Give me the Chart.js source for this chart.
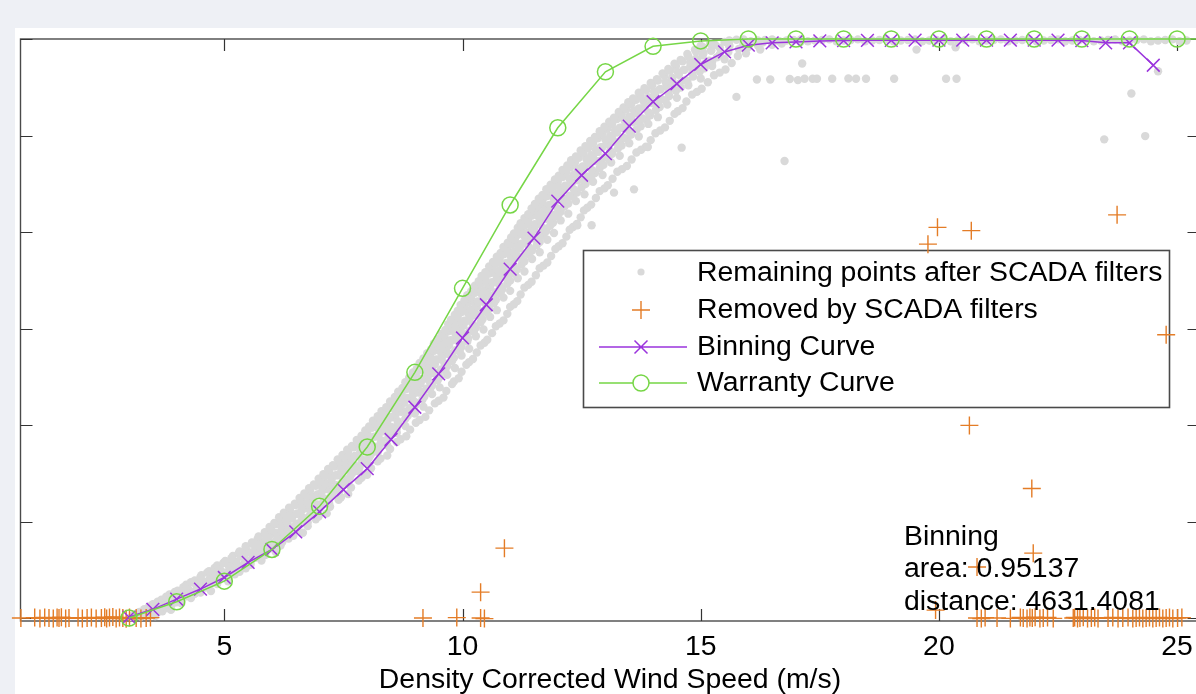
<!DOCTYPE html>
<html><head><meta charset="utf-8">
<script src="https://cdn.jsdelivr.net/npm/chart.js@4.4.1/dist/chart.umd.min.js"></script>
<style>
html,body{margin:0;padding:0;background:#eef0f5;overflow:hidden;width:1196px;height:694px;}
#wrap{position:absolute;left:0;top:0;width:1210px;height:694px;}
</style></head><body>
<div id="wrap"><canvas id="c" width="1210" height="694"></canvas></div>
<script>
// ---- data ----
const xTicks = [5, 10, 15, 20, 25];
const yTicks = [0, 500, 1000, 1500, 2000, 2500, 3000];
const xLabel = 'Density Corrected Wind Speed (m/s)';
const legendLabels = ['Remaining points after SCADA filters', 'Removed by SCADA filters', 'Binning Curve', 'Warranty Curve'];
const noteLines = ['Binning', 'area: 0.95137', 'distance: 4631.4081'];

const warrantySpeed = [3,4,5,6,7,8,9,10,11,12,13,14,15,16,17,18,19,20,21,22,23,24,25,26];
const warrantyPower = [0,84,191,355,579,886,1273,1708,2140,2540,2830,2962,2990,3000,3000,3000,3000,3000,3000,3000,3000,3000,3000,3000];

const binSpeed = [3,3.5,4,4.5,5,5.5,6,6.5,7,7.5,8,8.5,9,9.5,10,10.5,11,11.5,12,12.5,13,13.5,14,14.5,15,15.5,16,16.5,17,17.5,18,18.5,19,19.5,20,20.5,21,21.5,22,22.5,23,23.5,24,24.5];
const binPower = [5,45,98,150,210,288,355,446,550,665,774,925,1092,1265,1451,1623,1808,1968,2160,2294,2406,2549,2675,2768,2868,2933,2968,2980,2985,2990,2992,2993,2993,2994,2994,2994,2994,2994,2994,2994,2992,2980,2980,2864];

const remainingPts = [
[3.05,5],[3.15,12],[3.25,8],[3.3,22],[3.4,15],[3.5,28],[3.55,10],[3.2,25],
[3.1,18],[3.22,32],[3.35,28],[3.45,40],[3.6,30],[3.7,35],[3.28,15],
[3.32,45],[3.42,60],[3.5,38],[3.58,55],[3.65,48],[3.72,68],[3.8,52],[3.88,42],
[3.5,72],[3.6,85],[3.7,78],[3.8,90],[3.9,70],[4.0,82],[4.1,76],
[3.68,95],[3.78,110],[3.86,88],[3.95,118],[4.02,100],[4.1,92],[4.2,112],[4.3,104],
[3.85,122],[3.96,135],[4.06,118],[4.16,130],[4.26,140],[4.38,125],[4.5,132],
[4.02,142],[4.14,160],[4.24,150],[4.33,135],[4.42,165],[4.5,148],[4.6,158],[4.72,140],
[4.2,172],[4.3,185],[4.4,178],[4.52,190],[4.62,170],[4.74,182],[4.85,176],
[4.38,195],[4.5,212],[4.62,188],[4.7,205],[4.8,218],[4.88,196],[4.98,208],[5.08,190],
[4.52,222],[4.64,235],[4.76,228],[4.86,240],[4.96,220],[5.08,232],[5.22,226],
[4.68,242],[4.8,260],[4.92,248],[5.02,235],[5.1,265],[5.2,252],[5.32,240],[5.45,258],
[4.85,272],[4.98,285],[5.08,278],[5.2,290],[5.3,270],[5.42,282],[5.55,276],
[5.02,295],[5.15,310],[5.25,290],[5.35,318],[5.45,302],[5.55,288],[5.65,312],[5.78,298],
[5.18,322],[5.3,335],[5.42,328],[5.5,340],[5.6,320],[5.72,332],[5.86,326],
[5.32,345],[5.45,362],[5.55,340],[5.65,355],[5.75,368],[5.85,348],[5.95,360],[6.08,342],
[5.45,372],[5.58,385],[5.7,378],[5.8,390],[5.9,370],[6.02,382],[6.18,376],
[5.58,392],[5.7,410],[5.82,398],[5.92,415],[6.0,388],[6.1,405],[6.22,395],[6.35,412],
[5.72,422],[5.85,435],[5.96,428],[6.06,440],[6.16,420],[6.28,432],[6.45,426],
[5.85,445],[5.98,462],[6.1,440],[6.2,455],[6.3,468],[6.42,448],[6.52,460],[6.65,442],
[5.95,472],[6.08,485],[6.2,478],[6.32,490],[6.44,470],[6.56,482],[6.75,476],
[6.05,492],[6.18,510],[6.3,498],[6.42,515],[6.52,488],[6.62,505],[6.75,495],[6.92,512],
[6.15,522],[6.28,535],[6.42,528],[6.54,540],[6.66,520],[6.8,532],[6.98,526],
[6.25,545],[6.38,560],[6.52,540],[6.62,556],[6.72,568],[6.85,548],[6.98,560],[7.15,542],
[6.36,572],[6.5,585],[6.64,578],[6.76,590],[6.88,570],[7.02,582],[7.22,576],
[6.48,592],[6.62,610],[6.75,598],[6.85,615],[6.95,588],[7.08,605],[7.2,595],[7.4,612],
[6.58,622],[6.72,635],[6.86,628],[6.98,640],[7.1,620],[7.24,632],[7.45,626],
[6.68,645],[6.8,660],[6.95,640],[7.05,656],[7.15,668],[7.28,648],[7.42,660],[7.6,642],
[6.78,672],[6.92,685],[7.06,678],[7.18,690],[7.3,670],[7.44,682],[7.66,676],
[6.88,692],[7.0,710],[7.12,698],[7.25,715],[7.35,688],[7.48,705],[7.6,695],[7.82,712],
[6.98,722],[7.12,735],[7.26,728],[7.38,740],[7.5,720],[7.64,732],[7.88,726],
[7.08,745],[7.2,760],[7.34,740],[7.45,756],[7.55,768],[7.68,748],[7.82,760],[8.0,742],
[7.18,772],[7.32,785],[7.46,778],[7.58,790],[7.7,770],[7.84,782],[8.08,776],
[7.28,792],[7.42,810],[7.55,798],[7.65,815],[7.75,788],[7.88,805],[8.02,795],[8.22,812],
[7.38,822],[7.52,835],[7.66,828],[7.78,840],[7.9,820],[8.04,832],[8.28,826],
[7.48,845],[7.6,860],[7.74,840],[7.85,856],[7.95,868],[8.08,848],[8.22,860],[8.42,842],
[7.58,872],[7.72,885],[7.86,878],[7.98,890],[8.1,870],[8.24,882],[8.48,876],
[7.68,892],[7.8,910],[7.94,898],[8.05,915],[8.15,888],[8.28,905],[8.42,895],[8.62,912],
[7.78,922],[7.92,935],[8.06,928],[8.18,940],[8.3,920],[8.44,932],[8.7,926],
[7.88,945],[8.0,960],[8.14,940],[8.25,956],[8.35,968],[8.48,948],[8.62,960],[8.82,942],
[7.96,972],[8.1,985],[8.24,978],[8.36,990],[8.48,970],[8.62,982],[8.9,976],
[8.04,992],[8.18,1010],[8.3,998],[8.42,1015],[8.52,988],[8.65,1005],[8.8,995],[9.02,1012],
[8.12,1022],[8.26,1035],[8.4,1028],[8.52,1040],[8.64,1020],[8.8,1032],[9.1,1026],
[8.22,1045],[8.36,1060],[8.48,1040],[8.6,1056],[8.72,1068],[8.85,1048],[9.0,1060],[9.22,1042],
[8.3,1072],[8.44,1085],[8.58,1078],[8.7,1090],[8.82,1070],[8.98,1082],[9.3,1076],
[8.4,1092],[8.54,1110],[8.66,1098],[8.78,1115],[8.9,1088],[9.02,1105],[9.18,1095],[9.42,1112],
[8.48,1122],[8.62,1135],[8.76,1128],[8.88,1140],[9.0,1120],[9.16,1132],[9.5,1126],
[8.58,1145],[8.72,1160],[8.84,1140],[8.96,1156],[9.08,1168],[9.2,1148],[9.36,1160],[9.6,1142],
[8.65,1172],[8.8,1185],[8.94,1178],[9.06,1190],[9.18,1170],[9.32,1182],[9.66,1176],
[8.74,1192],[8.88,1210],[9.0,1198],[9.12,1215],[9.24,1188],[9.36,1205],[9.52,1195],[9.78,1212],
[8.8,1222],[8.95,1235],[9.08,1228],[9.2,1240],[9.32,1220],[9.48,1232],[9.82,1226],
[8.88,1245],[9.02,1260],[9.15,1240],[9.28,1256],[9.4,1268],[9.52,1248],[9.68,1260],[9.92,1242],
[8.96,1272],[9.1,1285],[9.24,1278],[9.36,1290],[9.48,1270],[9.64,1282],[9.98,1276],
[9.04,1292],[9.18,1310],[9.3,1298],[9.42,1315],[9.55,1288],[9.68,1305],[9.84,1295],[10.08,1312],
[9.1,1322],[9.25,1335],[9.38,1328],[9.5,1340],[9.62,1320],[9.78,1332],[10.14,1326],
[9.18,1345],[9.32,1360],[9.45,1340],[9.58,1356],[9.7,1368],[9.82,1348],[9.98,1360],[10.22,1342],
[9.26,1372],[9.4,1385],[9.54,1378],[9.66,1390],[9.78,1370],[9.94,1382],[10.3,1376],
[9.34,1392],[9.48,1410],[9.6,1398],[9.72,1415],[9.85,1388],[9.98,1405],[10.14,1395],[10.38,1412],
[9.4,1422],[9.55,1435],[9.68,1428],[9.8,1440],[9.94,1420],[10.1,1432],[10.46,1426],
[9.48,1445],[9.62,1460],[9.75,1440],[9.88,1456],[10.0,1468],[10.12,1448],[10.28,1460],[10.52,1442],
[9.56,1472],[9.7,1485],[9.84,1478],[9.96,1490],[10.08,1470],[10.24,1482],[10.62,1476],
[9.64,1492],[9.78,1510],[9.9,1498],[10.02,1515],[10.15,1488],[10.28,1505],[10.44,1495],[10.7,1512],
[9.7,1522],[9.84,1535],[9.98,1528],[10.1,1540],[10.22,1520],[10.38,1532],[10.78,1526],
[9.76,1545],[9.9,1560],[10.04,1540],[10.16,1556],[10.28,1568],[10.42,1548],[10.58,1560],[10.86,1542],
[9.84,1572],[9.98,1585],[10.12,1578],[10.24,1590],[10.36,1570],[10.52,1582],[10.94,1576],
[9.9,1592],[10.04,1610],[10.18,1598],[10.3,1615],[10.42,1588],[10.56,1605],[10.72,1595],[11.0,1612],
[9.96,1622],[10.12,1635],[10.26,1628],[10.38,1640],[10.5,1620],[10.66,1632],[11.08,1626],
[10.04,1645],[10.18,1660],[10.32,1640],[10.44,1656],[10.56,1668],[10.7,1648],[10.86,1660],[11.15,1642],
[10.1,1672],[10.26,1685],[10.4,1678],[10.52,1690],[10.64,1670],[10.8,1682],[11.22,1676],
[10.18,1692],[10.32,1710],[10.46,1698],[10.58,1715],[10.7,1688],[10.84,1705],[11.0,1695],[11.3,1712],
[10.26,1722],[10.4,1735],[10.54,1728],[10.66,1740],[10.78,1720],[10.94,1732],[11.38,1726],
[10.34,1745],[10.48,1760],[10.62,1740],[10.74,1756],[10.86,1768],[11.0,1748],[11.16,1760],[11.45,1742],
[10.4,1772],[10.56,1785],[10.7,1778],[10.82,1790],[10.94,1770],[11.1,1782],[11.54,1776],
[10.48,1792],[10.62,1810],[10.76,1798],[10.88,1815],[11.0,1788],[11.14,1805],[11.3,1795],[11.62,1812],
[10.56,1822],[10.7,1835],[10.84,1828],[10.96,1840],[11.08,1820],[11.24,1832],[11.7,1826],
[10.64,1845],[10.78,1860],[10.92,1840],[11.04,1856],[11.16,1868],[11.3,1848],[11.46,1860],[11.78,1842],
[10.72,1872],[10.86,1885],[11.0,1878],[11.12,1890],[11.24,1870],[11.4,1882],[11.86,1876],
[10.8,1892],[10.94,1910],[11.08,1898],[11.2,1915],[11.32,1888],[11.46,1905],[11.62,1895],[11.95,1912],
[10.86,1922],[11.02,1935],[11.16,1928],[11.28,1940],[11.4,1920],[11.56,1932],[12.02,1926],
[10.95,1945],[11.1,1960],[11.24,1940],[11.36,1956],[11.48,1968],[11.62,1948],[11.78,1960],[12.1,1942],
[11.02,1972],[11.16,1985],[11.3,1978],[11.44,1990],[11.56,1970],[11.7,1982],[12.18,1976],
[11.08,1992],[11.24,2010],[11.38,1998],[11.5,2015],[11.62,1988],[11.76,2005],[11.92,1995],[12.25,2012],
[11.16,2022],[11.3,2035],[11.44,2028],[11.58,2040],[11.7,2020],[11.84,2032],[12.32,2026],
[11.22,2045],[11.38,2060],[11.52,2040],[11.64,2056],[11.76,2068],[11.9,2048],[12.06,2060],[12.4,2042],
[11.3,2072],[11.46,2085],[11.6,2078],[11.72,2090],[11.84,2070],[12.0,2082],[12.48,2076],
[11.38,2092],[11.52,2110],[11.66,2098],[11.8,2115],[11.92,2088],[12.06,2105],[12.22,2095],[12.55,2112],
[11.45,2122],[11.6,2135],[11.74,2128],[11.88,2140],[12.0,2120],[12.14,2132],[12.62,2126],
[11.52,2145],[11.68,2160],[11.82,2140],[11.95,2156],[12.08,2168],[12.22,2148],[12.38,2160],[12.7,2142],
[11.6,2172],[11.76,2185],[11.9,2178],[12.04,2190],[12.16,2170],[12.32,2182],[12.8,2176],
[11.68,2192],[11.84,2210],[11.98,2198],[12.12,2215],[12.25,2188],[12.4,2205],[12.56,2195],[12.88,2212],
[11.76,2222],[11.92,2235],[12.06,2228],[12.2,2240],[12.34,2220],[12.5,2232],[12.98,2226],
[11.85,2245],[12.0,2260],[12.15,2240],[12.3,2256],[12.42,2268],[12.58,2248],[12.74,2260],[13.05,2242],
[11.94,2272],[12.1,2285],[12.24,2278],[12.4,2290],[12.54,2270],[12.7,2282],[13.15,2276],
[12.02,2292],[12.18,2310],[12.34,2298],[12.48,2315],[12.62,2288],[12.78,2305],[12.94,2295],[13.25,2312],
[12.1,2322],[12.26,2335],[12.42,2328],[12.56,2340],[12.72,2320],[12.88,2332],[13.35,2326],
[12.2,2345],[12.36,2360],[12.52,2340],[12.66,2356],[12.8,2368],[12.96,2348],[13.12,2360],[13.45,2342],
[12.28,2372],[12.44,2385],[12.6,2378],[12.74,2390],[12.9,2370],[13.06,2382],[13.55,2376],
[12.38,2392],[12.54,2410],[12.7,2398],[12.84,2415],[12.98,2388],[13.14,2405],[13.3,2395],[13.65,2412],
[12.48,2422],[12.64,2435],[12.8,2428],[12.94,2440],[13.1,2420],[13.26,2432],[13.75,2426],
[12.58,2445],[12.74,2460],[12.9,2440],[13.04,2456],[13.18,2468],[13.34,2448],[13.5,2460],[13.85,2442],
[12.68,2472],[12.84,2485],[13.0,2478],[13.14,2490],[13.3,2470],[13.46,2482],[13.95,2476],
[12.78,2492],[12.94,2510],[13.1,2498],[13.24,2515],[13.38,2488],[13.54,2505],[13.7,2495],[14.05,2512],
[12.88,2522],[13.04,2535],[13.2,2528],[13.34,2540],[13.5,2520],[13.66,2532],[14.15,2526],
[12.98,2545],[13.14,2560],[13.3,2540],[13.44,2556],[13.58,2568],[13.74,2548],[13.9,2560],[14.25,2542],
[13.08,2572],[13.24,2585],[13.4,2578],[13.54,2590],[13.7,2570],[13.86,2582],[14.35,2576],
[13.18,2592],[13.34,2610],[13.5,2598],[13.64,2615],[13.78,2588],[13.94,2605],[14.1,2595],[14.45,2612],
[13.28,2622],[13.44,2635],[13.6,2628],[13.74,2640],[13.9,2620],[14.06,2632],[14.52,2626],
[13.38,2645],[13.54,2660],[13.7,2640],[13.84,2656],[13.98,2668],[14.14,2648],[14.3,2660],[14.62,2642],
[13.48,2672],[13.64,2685],[13.8,2678],[13.94,2690],[14.1,2670],[14.26,2682],[14.7,2676],
[13.58,2692],[13.74,2710],[13.9,2698],[14.04,2715],[14.18,2688],[14.34,2705],[14.5,2695],[14.82,2712],
[13.7,2722],[13.86,2735],[14.02,2728],[14.16,2740],[14.32,2720],[14.48,2732],[14.92,2726],
[13.82,2745],[13.98,2760],[14.14,2740],[14.28,2756],[14.42,2768],[14.58,2748],[14.74,2760],[15.02,2742],
[13.95,2772],[14.1,2785],[14.26,2778],[14.4,2790],[14.56,2770],[14.72,2782],[15.15,2776],
[14.08,2792],[14.24,2810],[14.4,2798],[14.54,2815],[14.68,2788],[14.84,2805],[15.0,2795],[15.28,2812],
[14.2,2822],[14.36,2835],[14.52,2828],[14.66,2840],[14.82,2820],[14.98,2832],[15.4,2826],
[14.32,2845],[14.48,2860],[14.64,2840],[14.78,2856],[14.92,2868],[15.08,2848],[15.24,2860],[15.52,2842],
[14.45,2872],[14.62,2885],[14.78,2878],[14.92,2890],[15.08,2870],[15.24,2882],[15.65,2876],
[14.58,2892],[14.74,2910],[14.9,2898],[15.04,2915],[15.18,2888],[15.34,2905],[15.5,2895],[15.78,2912],
[14.72,2922],[14.9,2935],[15.06,2928],[15.22,2940],[15.4,2920],[15.58,2932],[15.95,2926],
[14.88,2945],[15.05,2958],[15.22,2940],[15.4,2955],[15.6,2962],[15.8,2948],[16.0,2958],[16.25,2945],
[15.0,2965],[15.3,2970],[15.6,2968],[15.9,2972],[16.2,2966],[16.5,2970],
[15.2,2978],[15.5,2985],[15.9,2975],[16.3,2982],[16.7,2976],[17.1,2985],
[15.6,2992],[15.9,2998],[16.2,2992],[16.5,2998],[16.8,2992],[17.1,2998],[17.4,2992],[17.7,2998],[18.0,2992],
[18.3,2998],[18.6,2992],[18.9,2998],[19.2,2992],[19.5,2998],[19.8,2992],[20.1,2998],[20.4,2992],[20.7,2998],
[21.0,2992],[21.3,2998],[21.6,2992],[21.9,2998],[22.2,2992],[22.5,2998],[22.8,2992],[23.1,2998],[23.4,2992],
[23.7,2998],[24.0,2992],[24.3,2998],[24.6,2992],[24.9,2998],[25.2,2992],
[15.75,2996],[16.05,2988],[16.35,2995],[16.65,2988],[16.95,2995],[17.25,2988],[17.55,2995],[17.85,2988],
[18.15,2995],[18.45,2988],[18.75,2995],[19.05,2988],[19.35,2995],[19.65,2988],[19.95,2995],[20.25,2988],
[20.55,2995],[20.85,2988],[21.15,2995],[21.45,2988],[21.75,2995],[22.05,2988],[22.35,2995],[22.65,2988],
[22.95,2995],[23.25,2988],[23.55,2995],[23.85,2988],[24.15,2995],[24.45,2988],[24.75,2995],[25.05,2988],
[17.13,2873],[16.18,2790],[16.46,2790],[16.87,2793],[17.04,2787],[17.18,2794],[17.35,2794],[17.44,2794],
[17.76,2794],[18.26,2794],[18.47,2794],[19.06,2794],[15.75,2700],[16.76,2368],[14.6,2437],[13.89,2440],
[13.6,2221],[13.18,2204],[12.71,2035],[12.41,2035],[19.53,2945],[20.35,2957],[18.1,2795],[20.15,2794],
[20.37,2794],[24.04,2718],[23.47,2480],[24.33,2497],[24.6,2833]
];

const removedPts = [
[0.73,0],[1.02,2],[1.13,-2],[1.23,3],[1.32,0],[1.41,-3],[1.49,2],[1.53,0],[1.58,4],[1.67,-2],[1.74,0],
[1.93,2],[2.02,-2],[2.12,0],[2.21,3],[2.31,-2],[2.42,0],[2.49,4],[2.53,-3],[2.59,2],[2.66,5],[2.73,-2],
[2.8,3],[2.87,0],[2.94,-4],[3.01,2],[3.15,0],[3.25,-3],[3.36,0],[3.45,2],
[9.17,0],[9.88,2],[10.38,0],[10.46,-3],[10.38,134],[10.88,362],
[19.93,41],[20.8,264],[21.98,336],[20.64,998],[21.95,671],[24.77,1468],
[19.77,1937],[19.97,2024],[20.68,2007],[23.74,2089],
[20.8,0],[20.89,-3],[20.97,2],[21.22,0],[21.5,-2],[21.71,3],[21.77,0],[21.85,-3],[21.91,2],[21.96,0],
[22.02,4],[22.12,-2],[22.19,0],[22.28,3],[22.4,-2],[22.82,0],[22.85,3],[22.91,-2],[22.96,0],[23.03,4],
[23.12,-3],[23.2,0],[23.27,2],[23.34,-2],[23.55,0],[23.65,3],[23.76,-2],[23.86,0],[23.97,2],[24.07,-3],
[24.14,0],[24.21,3],[24.28,-2],[24.35,0],[24.42,2],[24.49,-3],[24.56,0],[24.63,3],[24.7,-2],[24.77,0],
[24.84,2],[24.91,-3],[25.01,0],[25.1,2]
];

// ---- colours / styles ----
const C_GRAY = '#d9d9d9', C_ORANGE = '#e47c26', C_PURPLE = '#9b34dd', C_GREEN = '#76d646';
const FONT = '"Liberation Sans", Arial, Helvetica, sans-serif';
const FS = 28.4;

const toXY = (xs, ys) => xs.map((x, i) => ({x: x, y: ys[i]}));
const pairs = arr => arr.map(p => ({x: p[0], y: p[1]}));

const decor = {
  id: 'decor',
  beforeDraw(chart) {
    const ctx = chart.ctx;
    ctx.save();
    ctx.fillStyle = '#eef0f5';
    ctx.fillRect(0, 0, chart.width, chart.height);
    ctx.fillStyle = '#ffffff';
    ctx.fillRect(15, 28, chart.width - 15, chart.height - 28);
    ctx.restore();
  },
  beforeDatasetsDraw(chart) {
    const ctx = chart.ctx, a = chart.chartArea, xs = chart.scales.x, ys = chart.scales.y;
    ctx.save();
    ctx.strokeStyle = '#4a4a4a';
    ctx.lineWidth = 1.4;
    ctx.strokeRect(a.left, a.top, a.right - a.left, a.bottom - a.top);
    ctx.strokeStyle = '#333';
    ctx.lineWidth = 1.2;
    ctx.beginPath();
    xTicks.forEach(v => {
      const px = Math.round(xs.getPixelForValue(v)) + 0.5;
      ctx.moveTo(px, a.bottom); ctx.lineTo(px, a.bottom - 12);
      ctx.moveTo(px, a.top); ctx.lineTo(px, a.top + 12);
    });
    yTicks.forEach(v => {
      const py = Math.round(ys.getPixelForValue(v)) + 0.5;
      ctx.moveTo(a.left, py); ctx.lineTo(a.left + 12, py);
      ctx.moveTo(a.right, py); ctx.lineTo(a.right - 12, py);
    });
    ctx.stroke();

    // legend box
    const bx = 583.5, by = 250.5, bw = 586, bh = 157;
    ctx.fillStyle = '#fff';
    ctx.fillRect(bx, by, bw, bh);
    ctx.strokeStyle = '#4a4a4a';
    ctx.lineWidth = 1.6;
    ctx.strokeRect(bx, by, bw, bh);
    const rows = [273, 310, 347, 383], mx = 641;
    ctx.fillStyle = C_GRAY;
    ctx.beginPath(); ctx.arc(mx, rows[0] - 1, 3.6, 0, Math.PI * 2); ctx.fill();
    ctx.strokeStyle = C_ORANGE; ctx.lineWidth = 1.4;
    ctx.beginPath();
    ctx.moveTo(mx - 9, rows[1]); ctx.lineTo(mx + 9, rows[1]);
    ctx.moveTo(mx, rows[1] - 9); ctx.lineTo(mx, rows[1] + 9);
    ctx.stroke();
    ctx.strokeStyle = C_PURPLE; ctx.lineWidth = 1.5;
    ctx.beginPath();
    ctx.moveTo(599, rows[2]); ctx.lineTo(687, rows[2]);
    ctx.moveTo(mx - 6.5, rows[2] - 6.5); ctx.lineTo(mx + 6.5, rows[2] + 6.5);
    ctx.moveTo(mx - 6.5, rows[2] + 6.5); ctx.lineTo(mx + 6.5, rows[2] - 6.5);
    ctx.stroke();
    ctx.strokeStyle = C_GREEN; ctx.lineWidth = 1.5;
    ctx.beginPath();
    ctx.moveTo(599, rows[3]); ctx.lineTo(mx - 8, rows[3]);
    ctx.moveTo(mx + 8, rows[3]); ctx.lineTo(687, rows[3]);
    ctx.stroke();
    ctx.beginPath(); ctx.arc(mx, rows[3], 8, 0, Math.PI * 2); ctx.stroke();
    ctx.fillStyle = '#000';
    ctx.font = FS + 'px ' + FONT;
    ctx.textBaseline = 'middle';
    ctx.textAlign = 'left';
    legendLabels.forEach((t, i) => ctx.fillText(t, 697, rows[i]));
    ctx.restore();
  },
  afterDatasetsDraw(chart) {
    const ctx = chart.ctx;
    ctx.save();
    ctx.fillStyle = '#000';
    ctx.font = FS + 'px ' + FONT;
    ctx.textBaseline = 'alphabetic';
    ctx.textAlign = 'left';
    const base = [545, 577, 610];
    noteLines.forEach((t, i) => ctx.fillText(t, 904, base[i]));
    ctx.restore();
  }
};

new Chart(document.getElementById('c'), {
  type: 'scatter',
  data: {
    datasets: [
      {label: legendLabels[3], data: toXY(warrantySpeed, warrantyPower), showLine: true,
       borderColor: C_GREEN, backgroundColor: 'rgba(0,0,0,0)', borderWidth: 1.5,
       pointStyle: 'circle', pointRadius: 8, pointBorderWidth: 1.5, pointBorderColor: C_GREEN,
       pointBackgroundColor: 'rgba(0,0,0,0)', order: 0, clip: false},
      {label: legendLabels[2], data: toXY(binSpeed, binPower), showLine: true,
       borderColor: C_PURPLE, backgroundColor: 'rgba(0,0,0,0)', borderWidth: 1.5,
       pointStyle: 'crossRot', pointRadius: 9, pointBorderWidth: 1.5, pointBorderColor: C_PURPLE,
       order: 1, clip: false},
      {label: legendLabels[1], data: pairs(removedPts), showLine: false,
       pointStyle: 'cross', pointRadius: 9, pointBorderWidth: 1.4, pointBorderColor: C_ORANGE,
       borderColor: C_ORANGE, order: 2, clip: false},
      {label: legendLabels[0], data: pairs(remainingPts), showLine: false,
       pointStyle: 'circle', pointRadius: 4.2, pointBorderWidth: 0, pointBackgroundColor: C_GRAY,
       backgroundColor: C_GRAY, borderColor: C_GRAY, order: 3, clip: false}
    ]
  },
  options: {
    responsive: false, animation: false, devicePixelRatio: 1,
    layout: {padding: {left: 20.5, top: 39, right: 5, bottom: 0}},
    plugins: {legend: {display: false}, tooltip: {enabled: false}},
    scales: {
      x: {
        type: 'linear', min: 0.722, max: 25.47,
        afterBuildTicks: s => { s.ticks = xTicks.map(v => ({value: v})); },
        afterFit: s => { s.height = 73; },
        grid: {display: false, drawTicks: false},
        border: {display: false},
        ticks: {color: '#000', font: {size: FS, family: FONT}, padding: 9, maxRotation: 0, autoSkip: false},
        title: {display: true, text: xLabel, color: '#000', font: {size: FS, family: FONT, lineHeight: 1.0}, padding: {top: 0, bottom: 0}}
      },
      y: {
        type: 'linear', min: -15.5, max: 3000, display: false,
        afterBuildTicks: s => { s.ticks = yTicks.map(v => ({value: v})); }
      }
    }
  },
  plugins: [decor]
});
</script>
</body></html>
